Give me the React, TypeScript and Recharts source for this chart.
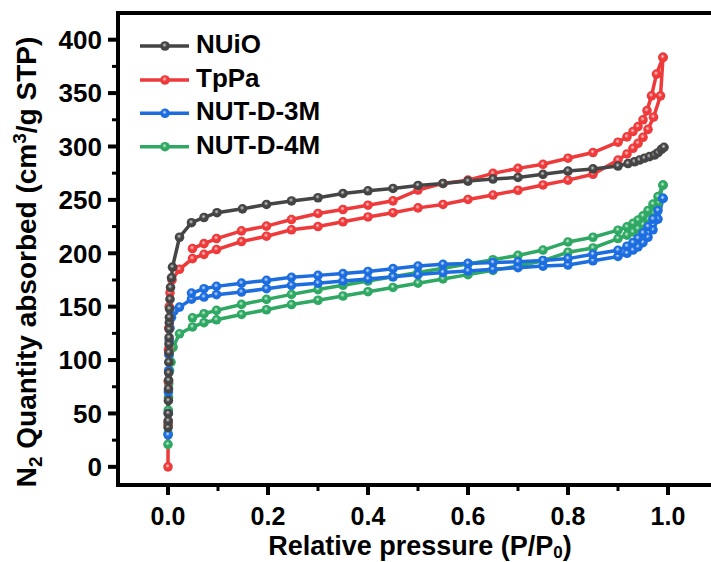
import { LineChart, Line, XAxis, YAxis, ReferenceLine } from 'recharts';

// NUiO (adsorption only, loop is closed)
const nuioP = [0.0002, 0.0004, 0.0006, 0.0008, 0.001, 0.0012, 0.0014, 0.0016, 0.0018, 0.002, 0.0022, 0.0024, 0.0026, 0.0028, 0.003, 0.004, 0.005, 0.007, 0.009, 0.023, 0.047, 0.072, 0.098, 0.149, 0.197, 0.247, 0.3, 0.35, 0.4, 0.45, 0.5, 0.55, 0.6, 0.65, 0.7, 0.75, 0.8, 0.85, 0.9, 0.92, 0.933, 0.943, 0.953, 0.963, 0.973, 0.98, 0.987, 0.992];
const nuioV = [37, 43, 50, 62, 73, 81, 88, 98, 107, 115, 121, 129, 135, 140, 148, 157, 168, 177, 187, 215, 228.6, 233.5, 238, 241.6, 245.7, 249, 252, 256, 258.5, 260.7, 263.5, 265.4, 267.6, 269.5, 271, 273.9, 277, 279, 281.7, 284, 285.7, 287.3, 289, 290.5, 292, 294.2, 297.4, 299.2];

// TpPa
const tppaAdsP = [0, 0.0003, 0.0006, 0.001, 0.0015, 0.0025, 0.004, 0.008, 0.023, 0.049, 0.072, 0.097, 0.147, 0.197, 0.247, 0.3, 0.35, 0.4, 0.45, 0.5, 0.55, 0.6, 0.65, 0.7, 0.75, 0.8, 0.85, 0.9, 0.918, 0.93, 0.94, 0.95, 0.96, 0.971, 0.985, 0.99];
const tppaAdsV = [0, 40, 80, 110, 130, 150, 163, 175, 185, 195, 199, 203.5, 211, 216, 222, 225, 229.5, 234, 238, 242.5, 245.7, 250.4, 254.5, 259, 264, 268.5, 274, 287.3, 293, 298.3, 303, 308.6, 316, 327.4, 347.4, 383.4];
const tppaDesP = [0.99, 0.977, 0.967, 0.958, 0.95, 0.94, 0.93, 0.918, 0.9, 0.85, 0.8, 0.75, 0.7, 0.65, 0.6, 0.55, 0.5, 0.45, 0.4, 0.35, 0.3, 0.247, 0.197, 0.147, 0.097, 0.072, 0.049];
const tppaDesV = [383.4, 367.8, 347.4, 333.6, 325, 318.6, 314, 309, 304, 294.3, 289, 283.3, 279.5, 274.8, 268.5, 265.4, 259.2, 249.1, 245, 241, 237.3, 231.6, 225.4, 221, 213.8, 209, 204.4];

// NUT-D-3M
const d3AdsP = [0.0002, 0.0005, 0.0008, 0.0012, 0.0018, 0.0025, 0.004, 0.007, 0.012, 0.023, 0.047, 0.072, 0.097, 0.147, 0.197, 0.247, 0.3, 0.35, 0.4, 0.45, 0.5, 0.55, 0.6, 0.65, 0.7, 0.75, 0.8, 0.85, 0.9, 0.918, 0.93, 0.94, 0.95, 0.96, 0.97, 0.98, 0.99];
const d3AdsV = [30, 50, 70, 90, 105, 118, 130, 140, 146, 149.6, 157, 159, 161.2, 163.7, 166.8, 170, 172, 174, 176, 178, 180, 182, 183.5, 185, 186.5, 188, 189, 193, 197, 200, 203, 206, 210, 215, 222, 232, 251.4];
const d3DesP = [0.99, 0.98, 0.97, 0.96, 0.95, 0.94, 0.93, 0.918, 0.9, 0.85, 0.8, 0.75, 0.7, 0.65, 0.6, 0.55, 0.5, 0.45, 0.4, 0.35, 0.3, 0.247, 0.197, 0.147, 0.097, 0.072, 0.047];
const d3DesV = [251.4, 240, 232, 225, 219, 214, 210, 206.6, 202.8, 199, 195, 193.3, 192, 191.3, 190.5, 189.7, 188, 185.6, 183, 181, 179.3, 177.5, 174.6, 172, 169, 166.8, 162.7];

// NUT-D-4M
const d4AdsP = [0, 0.0002, 0.0004, 0.0006, 0.001, 0.0015, 0.003, 0.006, 0.01, 0.023, 0.049, 0.072, 0.097, 0.147, 0.197, 0.247, 0.3, 0.35, 0.4, 0.45, 0.5, 0.55, 0.6, 0.65, 0.7, 0.75, 0.8, 0.85, 0.9, 0.918, 0.93, 0.94, 0.95, 0.96, 0.97, 0.98, 0.99];
const d4AdsV = [21, 31, 42, 53, 65, 78, 90, 98, 112, 124.6, 131, 135, 137.7, 142.7, 147.1, 152, 156, 160, 164, 168, 172, 176, 180, 184, 188, 193, 201, 205, 213.8, 217, 220, 223, 227, 232, 238, 247, 263.8];
const d4DesP = [0.99, 0.98, 0.97, 0.96, 0.95, 0.94, 0.93, 0.918, 0.9, 0.85, 0.8, 0.75, 0.7, 0.65, 0.6, 0.55, 0.5, 0.45, 0.4, 0.35, 0.3, 0.247, 0.197, 0.147, 0.097, 0.072, 0.049];
const d4DesV = [263.8, 253, 246, 240, 235, 231, 228, 224.7, 221.6, 215, 210.6, 203, 198, 194, 190, 186, 182, 178, 174, 170, 166, 161.5, 156.8, 152.1, 146.5, 143.4, 139.6];

const xTicks = [0, 0.1, 0.2, 0.3, 0.4, 0.5, 0.6, 0.7, 0.8, 0.9, 1.0];
const yTicks = [0, 25, 50, 75, 100, 125, 150, 175, 200, 225, 250, 275, 300, 325, 350, 375, 400];

const seriesNames = ['NUiO', 'TpPa', 'NUT-D-3M', 'NUT-D-4M'];
const colors = ['#454545', '#ee3a3a', '#1c6de0', '#2ea862'];
const shine = ['#d0d0d0', '#ffd0d0', '#cfe2ff', '#cdeedb'];

const toPoints = (p: number[], v: number[]) => p.map((x, i) => ({ p: x, v: v[i] }));

const FONT = '"Liberation Sans", Arial, sans-serif';

const XTick = (props: any) => {
  const { x, y, payload } = props;
  const major = Math.round(payload.value * 10) % 2 === 0;
  return (
    <g>
      <line x1={x} y1={y} x2={x} y2={y + (major ? 10 : 6)} stroke="#000" strokeWidth={major ? 4 : 3} />
      {major && (
        <text x={x} y={y + 40} textAnchor="middle" fontSize={25} fontWeight="bold" fontFamily={FONT} fill="#000">
          {payload.value.toFixed(1)}
        </text>
      )}
    </g>
  );
};

const YTick = (props: any) => {
  const { x, y, payload } = props;
  const major = payload.value % 50 === 0;
  return (
    <g>
      <line x1={x} y1={y} x2={x - (major ? 10 : 6)} y2={y} stroke="#000" strokeWidth={major ? 4 : 3} />
      {major && (
        <text x={x - 16} y={y + 9.3} textAnchor="end" fontSize={26} fontWeight="bold" fontFamily={FONT} fill="#000">
          {payload.value}
        </text>
      )}
    </g>
  );
};

const legendY = [46, 80, 113.3, 146.7];

const App = () => {
  const lines = [
    { key: 'd4-ads', idx: 3, data: toPoints(d4AdsP, d4AdsV) },
    { key: 'd4-des', idx: 3, data: toPoints(d4DesP, d4DesV) },
    { key: 'd3-ads', idx: 2, data: toPoints(d3AdsP, d3AdsV) },
    { key: 'd3-des', idx: 2, data: toPoints(d3DesP, d3DesV) },
    { key: 'tppa-ads', idx: 1, data: toPoints(tppaAdsP, tppaAdsV) },
    { key: 'tppa-des', idx: 1, data: toPoints(tppaDesP, tppaDesV) },
    { key: 'nuio', idx: 0, data: toPoints(nuioP, nuioV) },
  ];

  return (
    <div style={{ position: 'absolute', left: 0, top: 0, width: 711, height: 562, overflow: 'hidden', background: '#fff' }}>
      <LineChart width={730} height={562} margin={{ top: 13, right: 12, bottom: 0, left: 0 }}>
        <defs>
          {colors.map((c, i) => (
            <radialGradient key={i} id={`ball-${i}`} cx="45%" cy="40%" r="60%">
              <stop offset="0%" stopColor={shine[i]} />
              <stop offset="40%" stopColor={c} />
              <stop offset="100%" stopColor={c} />
            </radialGradient>
          ))}
        </defs>
        <XAxis
          dataKey="p"
          type="number"
          domain={[-0.1, 1.1]}
          allowDataOverflow
          ticks={xTicks}
          interval={0}
          height={77}
          tickSize={0}
          tickMargin={0}
          tickLine={false}
          tick={<XTick />}
          axisLine={{ stroke: '#000', strokeWidth: 4, strokeLinecap: 'square' }}
        />
        <YAxis
          dataKey="v"
          type="number"
          domain={[-17, 425]}
          allowDataOverflow
          ticks={yTicks}
          interval={0}
          width={118}
          tickSize={0}
          tickMargin={0}
          tickLine={false}
          tick={<YTick />}
          axisLine={{ stroke: '#000', strokeWidth: 4, strokeLinecap: 'square' }}
        />
        <ReferenceLine y={425} stroke="#000" strokeWidth={4} />
        {lines.map((l) => (
          <Line
            key={l.key}
            data={l.data}
            dataKey="v"
            type="linear"
            stroke={colors[l.idx]}
            strokeWidth={3.5}
            dot={{ r: 4.8, fill: `url(#ball-${l.idx})`, stroke: 'none', strokeWidth: 0 }}
            activeDot={false}
            isAnimationActive={false}
          />
        ))}
        <g>
          {seriesNames.map((name, i) => (
            <g key={name}>
              <line x1={140} y1={legendY[i]} x2={189} y2={legendY[i]} stroke={colors[i]} strokeWidth={3.5} />
              <circle cx={165} cy={legendY[i]} r={4.8} fill={`url(#ball-${i})`} />
              <text x={196} y={legendY[i] + 7} fontSize={26} fontWeight="bold" fontFamily={FONT} fill="#000">
                {name}
              </text>
            </g>
          ))}
        </g>
        <text x={420} y={555} textAnchor="middle" fontSize={27} fontWeight="bold" fontFamily={FONT} fill="#000">
          Relative pressure (P/P<tspan dy={3} fontSize={17}>0</tspan><tspan dy={-3}>)</tspan>
        </text>
        <text
          transform="rotate(-90)"
          x={-262}
          y={36}
          textAnchor="middle"
          fontSize={28}
          fontWeight="bold"
          fontFamily={FONT}
          fill="#000"
        >
          N<tspan dy={6} fontSize={19}>2</tspan>
          <tspan dy={-6}> Quantity absorbed (cm</tspan>
          <tspan dy={-10} fontSize={19}>3</tspan>
          <tspan dy={10}>/g STP)</tspan>
        </text>
      </LineChart>
    </div>
  );
};

export default App;
